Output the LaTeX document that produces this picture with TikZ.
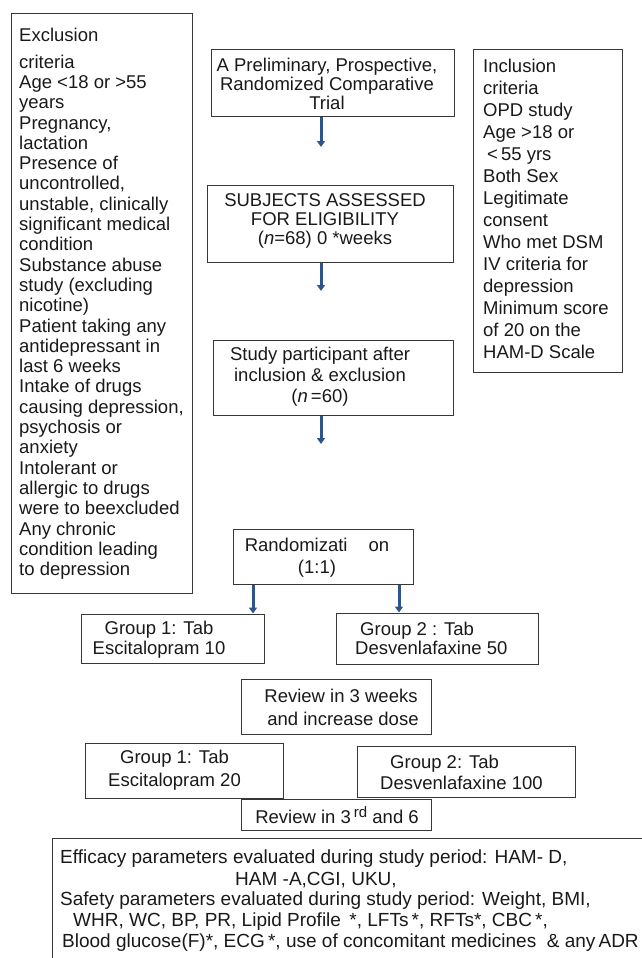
\documentclass[tikz,border=0pt]{standalone}
\usepackage{fontspec}
\setmainfont{Liberation Sans}
\usetikzlibrary{arrows.meta}
\definecolor{arrblue}{RGB}{46,84,140}
\definecolor{boxline}{RGB}{55,55,55}
\definecolor{txtc}{RGB}{25,25,25}
\begin{document}
\begin{tikzpicture}[x=1pt,y=-1pt,
  box/.style={draw=boxline, line width=1pt, inner sep=0pt},
  txt/.style={inner sep=0pt, text=txtc, align=center, font=\fontsize{18.5}{20}\selectfont},
  ltxt/.style={txt, align=left},
  ptxt/.style={txt, anchor=west, font=\fontsize{19}{20}\selectfont},
  arr/.style={draw=arrblue, line width=3pt, -{Triangle[width=8pt,length=6pt]}}]
\useasboundingbox (0,0) rectangle (642,958);

% Exclusion criteria
\node[box, minimum width=181pt, minimum height=579pt] (excl) at (101.5,303.5) {};
\node[ltxt, anchor=west, font=\fontsize{18.5}{20.3}\selectfont] (exclt) at (19,304) {Exclusion\\[6pt]criteria\\Age <18 or >55\\years\\Pregnancy,\\lactation\\Presence of\\uncontrolled,\\unstable, clinically\\significant medical\\condition\\Substance abuse\\study (excluding\\nicotine)\\Patient taking any\\antidepressant in\\last 6 weeks\\Intake of drugs\\causing depression,\\psychosis or\\anxiety\\Intolerant or\\allergic to drugs\\were to beexcluded\\Any chronic\\condition leading\\to depression};

% Inclusion criteria
\node[box, minimum width=149pt, minimum height=322pt] (incl) at (547.5,211) {};
\node[ltxt, anchor=west, font=\fontsize{18.5}{22}\selectfont] (inclt) at (483,209) {Inclusion\\criteria\\OPD study\\Age >18 or\\\hspace{4pt}<\,55 yrs\\Both Sex\\Legitimate\\consent\\Who met DSM\\IV criteria for\\depression\\Minimum score\\of 20 on the\\HAM-D Scale};

% Trial
\node[box, minimum width=243pt, minimum height=66pt] (trial) at (332.5,83) {};
\node[txt, font=\fontsize{18.5}{19}\selectfont] (trialt) at (327,84) {A Preliminary, Prospective,\\Randomized Comparative\\Trial};
\coordinate (e1) at (321,147);
\draw[arr] (trial.south -| e1) -- (e1);

% Subjects
\node[box, minimum width=246pt, minimum height=77pt] (subj) at (330,223.5) {};
\node[txt, font=\fontsize{18.5}{19}\selectfont] (subjt) at (325,221) {SUBJECTS ASSESSED\\FOR ELIGIBILITY\\(\textit{n}=68) 0 *weeks};
\coordinate (e2) at (321,291);
\draw[arr] (subj.south -| e2) -- (e2);

% Study participants
\node[box, minimum width=240pt, minimum height=75pt] (study) at (333,377.5) {};
\node[txt, font=\fontsize{18.5}{21}\selectfont] (studyt) at (320,377) {Study participant after\\inclusion \& exclusion\\(\textit{n}\,=60)};
\coordinate (e3) at (321,444);
\draw[arr] (study.south -| e3) -- (e3);

% Randomization
\node[box, minimum width=180pt, minimum height=55pt] (rand) at (323,556.5) {};
\node[txt, font=\fontsize{18.5}{22}\selectfont] (randt) at (317,558) {Randomizati\hspace{21pt}on\\(1:1)};

% Group boxes first stage
\node[box, minimum width=183pt, minimum height=49pt] (ga) at (172.5,638.5) {};
\node[txt, font=\fontsize{18.5}{19.5}\selectfont] (gat) at (159,639.5) {Group 1: Tab\\Escitalopram 10};
\node[box, minimum width=202pt, minimum height=51pt] (gb) at (437,638.5) {};
\node[ltxt, anchor=west, font=\fontsize{18.5}{19.5}\selectfont] (gbt) at (355,638.5) {\hspace{5pt}Group 2 : Tab\\Desvenlafaxine 50};
\coordinate (ka) at (253,600);
\coordinate (kb) at (399,600);
\draw[arr] (rand.south -| ka) -- (ga.north -| ka);
\draw[arr] (rand.south -| kb) -- (gb.north -| kb);

% Review 1
\node[box, minimum width=190pt, minimum height=55pt] (rev) at (336,706.5) {};
\node[txt, font=\fontsize{18.5}{23}\selectfont] (revt) at (341,707.5) {Review in 3 weeks\\\hspace{4pt}and increase dose};

% Group boxes second stage
\node[box, minimum width=198pt, minimum height=55pt] (gc) at (184,770.5) {};
\node[txt, font=\fontsize{18.5}{23}\selectfont] (gct) at (174.5,770.5) {Group 1: Tab\\Escitalopram 20};
\node[box, minimum width=218pt, minimum height=51pt] (gd) at (466,771.5) {};
\node[ltxt, anchor=west, font=\fontsize{18.5}{21}\selectfont] (gdt) at (380,772.5) {\hspace{10pt}Group 2: Tab\\Desvenlafaxine 100};

% Review 2
\node[box, minimum width=190pt, minimum height=31pt] (rev2) at (336,814.5) {};
\node[txt] (rev2t) at (337,815) {Review in 3\,\raisebox{5.5pt}{\fontsize{15}{15}\selectfont rd} and 6};

% Parameters box
\node[box, minimum width=628pt, minimum height=152pt] (par) at (366,914) {};
\node[ptxt] (p1) at (60,859) {Efficacy parameters evaluated during study period: HAM- D,};
\node[ptxt] (p2) at (235,880) {HAM -A,CGI, UKU,};
\node[ptxt] (p3) at (60,901) {Safety parameters evaluated during study period: Weight, BMI,};
\node[ptxt] (p4) at (73,922) {WHR, WC, BP, PR, Lipid Profile \,*, LFTs\,*, RFTs*, CBC\,*,};
\node[ptxt] (p5) at (62,943) {Blood glucose(F)*, ECG\,*, use of concomitant medicines \ \& any\,ADR};
\end{tikzpicture}
\end{document}
